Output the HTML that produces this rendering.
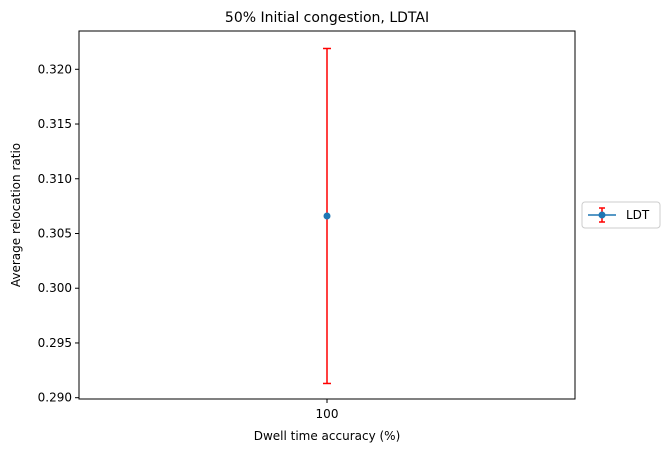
<!DOCTYPE html>
<html><head><meta charset="utf-8"><style>
body{margin:0;background:#fff;font-family:"DejaVu Sans","Liberation Sans",sans-serif}
svg text{font-family:"DejaVu Sans","Liberation Sans",sans-serif;fill:#000}
</style></head><body>
<svg width="669" height="453" id="c">
<rect width="669" height="453" fill="#fff"/>
<text x="327" y="22" font-size="14" text-anchor="middle">50% Initial congestion, LDTAI</text>
<g id="ticks"></g>
<g id="marks"></g>
<rect x="79" y="31" width="496" height="368" fill="none" stroke="#000" stroke-width="1"/>
<text x="327" y="440" font-size="12" text-anchor="middle">Dwell time accuracy (%)</text>
<text transform="translate(20,215) rotate(-90)" font-size="12" text-anchor="middle">Average relocation ratio</text>
<g>
<rect x="582" y="202" width="78" height="26" rx="3" fill="#fff" stroke="#ccc"/>
<line x1="588" y1="215" x2="616" y2="215" stroke="#1f77b4" stroke-width="1.5"/>
<line x1="602" y1="208" x2="602" y2="222" stroke="red" stroke-width="1.5"/>
<line x1="599" y1="208" x2="605" y2="208" stroke="red" stroke-width="1.5"/>
<line x1="599" y1="222" x2="605" y2="222" stroke="red" stroke-width="1.5"/>
<circle cx="602" cy="215" r="3.5" fill="#1f77b4"/>
<text x="626" y="219" font-size="12">LDT</text>
</g>
</svg>
<script>
const categories=["100"];
const means=[0.3066];
const errors=[0.0153];
const yTicks=[0.290,0.295,0.300,0.305,0.310,0.315,0.320];
const ns="http://www.w3.org/2000/svg";
function y(v){return 397.7-(v-0.290)*10947;}
function x(i){return 327+i*100;}
function mk(t,a,p){const e=document.createElementNS(ns,t);for(const k in a)e.setAttribute(k,a[k]);p.appendChild(e);return e;}
const T=document.getElementById('ticks'),M=document.getElementById('marks');
yTicks.forEach(v=>{
 const l=mk('line',{x1:75,x2:79,y1:y(v),y2:y(v),stroke:'#000'},T);
 
 
 const t=mk('text',{x:72,y:y(v)+4,'font-size':12,'text-anchor':'end'},T);
 t.textContent=v.toFixed(3);
 
 
});
categories.forEach((c,i)=>{
 const l=mk('line',{x1:x(i),x2:x(i),y1:399,y2:403,stroke:'#000'},T);
 
 
 const t=mk('text',{x:x(i),y:418,'font-size':12,'text-anchor':'middle'},T);
 t.textContent=c;
 
 
 const g=mk('g',{},M);
 
 
 const hi=y(means[i]+errors[i]),lo=y(means[i]-errors[i]);
 mk('line',{x1:x(i),x2:x(i),y1:hi,y2:lo,stroke:'red','stroke-width':1.5},g);
 mk('line',{x1:x(i)-4,x2:x(i)+4,y1:hi,y2:hi,stroke:'red','stroke-width':1.5},g);
 mk('line',{x1:x(i)-4,x2:x(i)+4,y1:lo,y2:lo,stroke:'red','stroke-width':1.5},g);
 const p=mk('circle',{cx:x(i),cy:y(means[i]),r:3.5,fill:'#1f77b4'},M);
 
 
});
</script>
</body></html>
